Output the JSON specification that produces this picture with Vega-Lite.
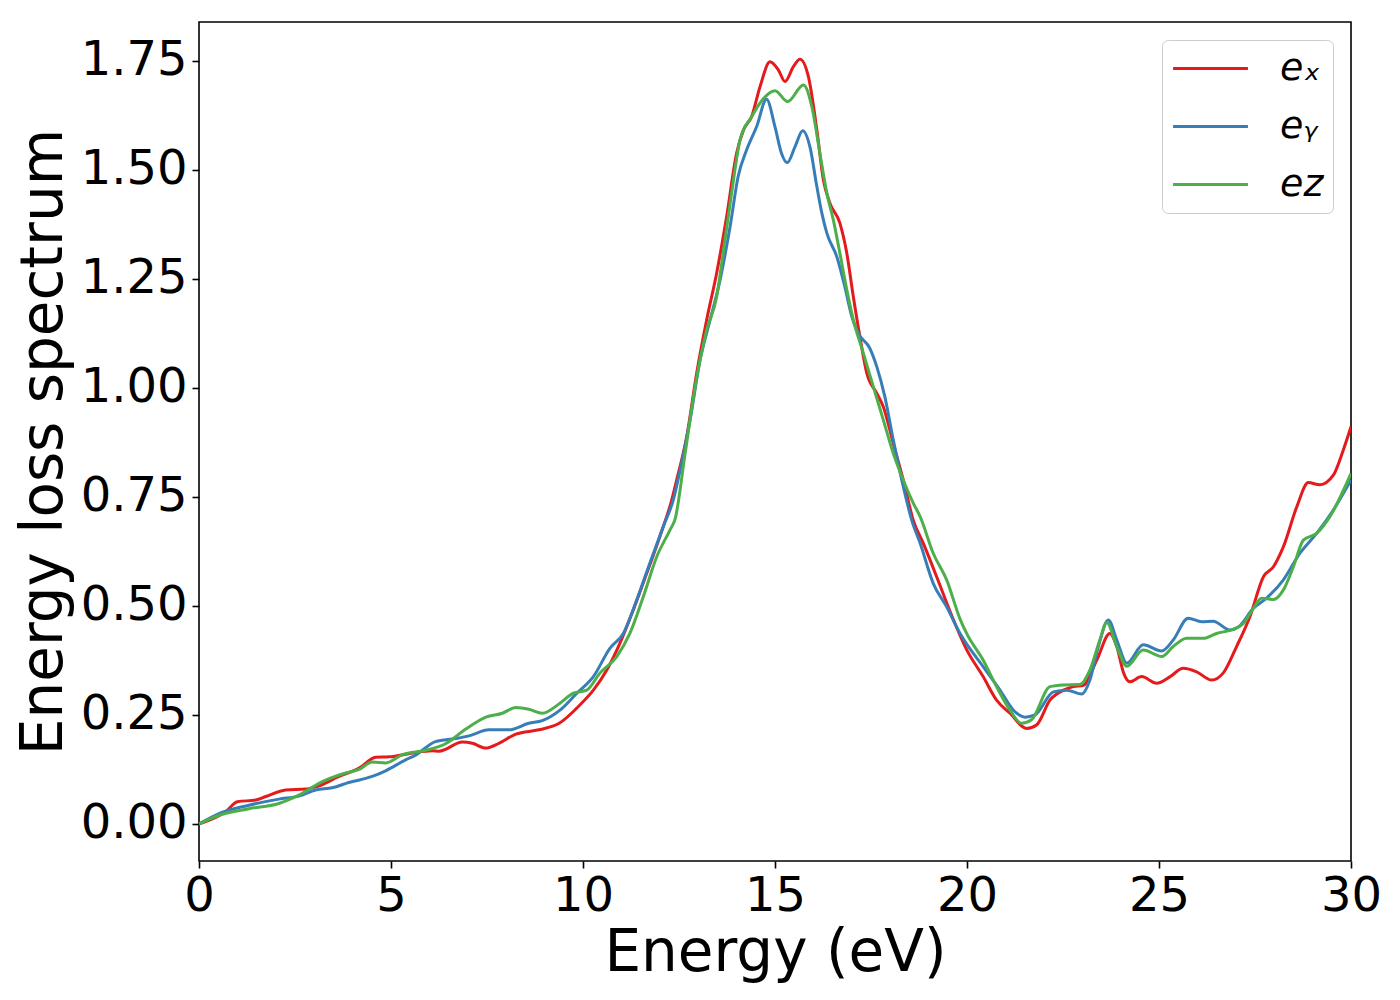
{
  "$schema": "https://vega.github.io/schema/vega-lite/v6.json",
  "width": 1152,
  "height": 839,
  "autosize": {"type": "none"},
  "padding": {"left": 199, "top": 22, "right": 49, "bottom": 139},
  "background": "white",
  "config": {
    "font": "DejaVu Sans",
    "view": {"stroke": "black", "strokeWidth": 1.6}
  },
  "datasets": {
    "eels": [
      {"energy": 0, "loss": 0, "series": "ex"},
      {"energy": 0.69, "loss": 0.028, "series": "ex"},
      {"energy": 1.0, "loss": 0.051, "series": "ex"},
      {"energy": 1.48, "loss": 0.055, "series": "ex"},
      {"energy": 1.74, "loss": 0.063, "series": "ex"},
      {"energy": 2.26, "loss": 0.078, "series": "ex"},
      {"energy": 2.78, "loss": 0.08, "series": "ex"},
      {"energy": 3.04, "loss": 0.085, "series": "ex"},
      {"energy": 3.65, "loss": 0.109, "series": "ex"},
      {"energy": 4.17, "loss": 0.128, "series": "ex"},
      {"energy": 4.6, "loss": 0.153, "series": "ex"},
      {"energy": 4.95, "loss": 0.154, "series": "ex"},
      {"energy": 5.56, "loss": 0.163, "series": "ex"},
      {"energy": 6.08, "loss": 0.168, "series": "ex"},
      {"energy": 6.25, "loss": 0.167, "series": "ex"},
      {"energy": 6.86, "loss": 0.188, "series": "ex"},
      {"energy": 7.12, "loss": 0.185, "series": "ex"},
      {"energy": 7.47, "loss": 0.174, "series": "ex"},
      {"energy": 7.81, "loss": 0.185, "series": "ex"},
      {"energy": 8.25, "loss": 0.206, "series": "ex"},
      {"energy": 8.85, "loss": 0.216, "series": "ex"},
      {"energy": 9.38, "loss": 0.231, "series": "ex"},
      {"energy": 9.92, "loss": 0.273, "series": "ex"},
      {"energy": 10.27, "loss": 0.307, "series": "ex"},
      {"energy": 10.62, "loss": 0.353, "series": "ex"},
      {"energy": 10.96, "loss": 0.414, "series": "ex"},
      {"energy": 11.31, "loss": 0.491, "series": "ex"},
      {"energy": 11.66, "loss": 0.575, "series": "ex"},
      {"energy": 12.0, "loss": 0.659, "series": "ex"},
      {"energy": 12.31, "loss": 0.743, "series": "ex"},
      {"energy": 12.44, "loss": 0.789, "series": "ex"},
      {"energy": 12.7, "loss": 0.888, "series": "ex"},
      {"energy": 12.96, "loss": 1.034, "series": "ex"},
      {"energy": 13.22, "loss": 1.156, "series": "ex"},
      {"energy": 13.48, "loss": 1.263, "series": "ex"},
      {"energy": 13.74, "loss": 1.393, "series": "ex"},
      {"energy": 14.0, "loss": 1.538, "series": "ex"},
      {"energy": 14.18, "loss": 1.592, "series": "ex"},
      {"energy": 14.39, "loss": 1.622, "series": "ex"},
      {"energy": 14.61, "loss": 1.691, "series": "ex"},
      {"energy": 14.87, "loss": 1.748, "series": "ex"},
      {"energy": 15.09, "loss": 1.729, "series": "ex"},
      {"energy": 15.26, "loss": 1.703, "series": "ex"},
      {"energy": 15.48, "loss": 1.737, "series": "ex"},
      {"energy": 15.65, "loss": 1.754, "series": "ex"},
      {"energy": 15.87, "loss": 1.714, "series": "ex"},
      {"energy": 16.09, "loss": 1.592, "series": "ex"},
      {"energy": 16.26, "loss": 1.477, "series": "ex"},
      {"energy": 16.43, "loss": 1.424, "series": "ex"},
      {"energy": 16.69, "loss": 1.378, "series": "ex"},
      {"energy": 16.87, "loss": 1.309, "series": "ex"},
      {"energy": 17.04, "loss": 1.209, "series": "ex"},
      {"energy": 17.21, "loss": 1.118, "series": "ex"},
      {"energy": 17.39, "loss": 1.034, "series": "ex"},
      {"energy": 17.65, "loss": 0.988, "series": "ex"},
      {"energy": 17.82, "loss": 0.957, "series": "ex"},
      {"energy": 18.08, "loss": 0.873, "series": "ex"},
      {"energy": 18.34, "loss": 0.789, "series": "ex"},
      {"energy": 18.6, "loss": 0.697, "series": "ex"},
      {"energy": 18.86, "loss": 0.644, "series": "ex"},
      {"energy": 19.21, "loss": 0.567, "series": "ex"},
      {"energy": 19.56, "loss": 0.487, "series": "ex"},
      {"energy": 19.99, "loss": 0.4, "series": "ex"},
      {"energy": 20.42, "loss": 0.338, "series": "ex"},
      {"energy": 20.77, "loss": 0.284, "series": "ex"},
      {"energy": 21.12, "loss": 0.254, "series": "ex"},
      {"energy": 21.55, "loss": 0.219, "series": "ex"},
      {"energy": 21.81, "loss": 0.227, "series": "ex"},
      {"energy": 22.16, "loss": 0.284, "series": "ex"},
      {"energy": 22.51, "loss": 0.307, "series": "ex"},
      {"energy": 22.77, "loss": 0.315, "series": "ex"},
      {"energy": 23.03, "loss": 0.318, "series": "ex"},
      {"energy": 23.38, "loss": 0.376, "series": "ex"},
      {"energy": 23.72, "loss": 0.437, "series": "ex"},
      {"energy": 23.9, "loss": 0.407, "series": "ex"},
      {"energy": 24.08, "loss": 0.346, "series": "ex"},
      {"energy": 24.24, "loss": 0.326, "series": "ex"},
      {"energy": 24.55, "loss": 0.338, "series": "ex"},
      {"energy": 24.94, "loss": 0.323, "series": "ex"},
      {"energy": 25.29, "loss": 0.338, "series": "ex"},
      {"energy": 25.63, "loss": 0.357, "series": "ex"},
      {"energy": 25.98, "loss": 0.349, "series": "ex"},
      {"energy": 26.37, "loss": 0.33, "series": "ex"},
      {"energy": 26.67, "loss": 0.346, "series": "ex"},
      {"energy": 27.02, "loss": 0.407, "series": "ex"},
      {"energy": 27.37, "loss": 0.476, "series": "ex"},
      {"energy": 27.72, "loss": 0.567, "series": "ex"},
      {"energy": 27.98, "loss": 0.59, "series": "ex"},
      {"energy": 28.24, "loss": 0.636, "series": "ex"},
      {"energy": 28.59, "loss": 0.728, "series": "ex"},
      {"energy": 28.89, "loss": 0.783, "series": "ex"},
      {"energy": 29.19, "loss": 0.778, "series": "ex"},
      {"energy": 29.54, "loss": 0.8, "series": "ex"},
      {"energy": 29.8, "loss": 0.858, "series": "ex"},
      {"energy": 30.0, "loss": 0.911, "series": "ex"},

      {"energy": 0, "loss": 0, "series": "ey"},
      {"energy": 0.52, "loss": 0.024, "series": "ey"},
      {"energy": 1.3, "loss": 0.043, "series": "ey"},
      {"energy": 2.08, "loss": 0.057, "series": "ey"},
      {"energy": 2.6, "loss": 0.064, "series": "ey"},
      {"energy": 3.04, "loss": 0.078, "series": "ey"},
      {"energy": 3.47, "loss": 0.083, "series": "ey"},
      {"energy": 3.9, "loss": 0.095, "series": "ey"},
      {"energy": 4.51, "loss": 0.109, "series": "ey"},
      {"energy": 4.86, "loss": 0.122, "series": "ey"},
      {"energy": 5.38, "loss": 0.147, "series": "ey"},
      {"energy": 5.64, "loss": 0.158, "series": "ey"},
      {"energy": 6.16, "loss": 0.189, "series": "ey"},
      {"energy": 6.68, "loss": 0.196, "series": "ey"},
      {"energy": 7.03, "loss": 0.202, "series": "ey"},
      {"energy": 7.55, "loss": 0.216, "series": "ey"},
      {"energy": 8.07, "loss": 0.216, "series": "ey"},
      {"energy": 8.59, "loss": 0.231, "series": "ey"},
      {"energy": 8.94, "loss": 0.237, "series": "ey"},
      {"energy": 9.4, "loss": 0.261, "series": "ey"},
      {"energy": 9.84, "loss": 0.3, "series": "ey"},
      {"energy": 10.27, "loss": 0.338, "series": "ey"},
      {"energy": 10.7, "loss": 0.403, "series": "ey"},
      {"energy": 11.05, "loss": 0.437, "series": "ey"},
      {"energy": 11.4, "loss": 0.514, "series": "ey"},
      {"energy": 11.74, "loss": 0.598, "series": "ey"},
      {"energy": 12.09, "loss": 0.682, "series": "ey"},
      {"energy": 12.35, "loss": 0.743, "series": "ey"},
      {"energy": 12.53, "loss": 0.812, "series": "ey"},
      {"energy": 12.79, "loss": 0.927, "series": "ey"},
      {"energy": 13.05, "loss": 1.064, "series": "ey"},
      {"energy": 13.31, "loss": 1.156, "series": "ey"},
      {"energy": 13.57, "loss": 1.248, "series": "ey"},
      {"energy": 13.83, "loss": 1.37, "series": "ey"},
      {"energy": 14.04, "loss": 1.485, "series": "ey"},
      {"energy": 14.26, "loss": 1.546, "series": "ey"},
      {"energy": 14.52, "loss": 1.599, "series": "ey"},
      {"energy": 14.78, "loss": 1.662, "series": "ey"},
      {"energy": 15.0, "loss": 1.599, "series": "ey"},
      {"energy": 15.17, "loss": 1.538, "series": "ey"},
      {"energy": 15.32, "loss": 1.517, "series": "ey"},
      {"energy": 15.52, "loss": 1.553, "series": "ey"},
      {"energy": 15.72, "loss": 1.59, "series": "ey"},
      {"energy": 15.91, "loss": 1.553, "series": "ey"},
      {"energy": 16.09, "loss": 1.462, "series": "ey"},
      {"energy": 16.22, "loss": 1.401, "series": "ey"},
      {"energy": 16.35, "loss": 1.355, "series": "ey"},
      {"energy": 16.61, "loss": 1.301, "series": "ey"},
      {"energy": 16.82, "loss": 1.232, "series": "ey"},
      {"energy": 17.0, "loss": 1.164, "series": "ey"},
      {"energy": 17.17, "loss": 1.125, "series": "ey"},
      {"energy": 17.47, "loss": 1.091, "series": "ey"},
      {"energy": 17.65, "loss": 1.049, "series": "ey"},
      {"energy": 17.86, "loss": 0.98, "series": "ey"},
      {"energy": 18.08, "loss": 0.881, "series": "ey"},
      {"energy": 18.34, "loss": 0.774, "series": "ey"},
      {"energy": 18.56, "loss": 0.697, "series": "ey"},
      {"energy": 18.78, "loss": 0.644, "series": "ey"},
      {"energy": 19.12, "loss": 0.552, "series": "ey"},
      {"energy": 19.47, "loss": 0.498, "series": "ey"},
      {"energy": 19.82, "loss": 0.437, "series": "ey"},
      {"energy": 20.42, "loss": 0.361, "series": "ey"},
      {"energy": 20.86, "loss": 0.307, "series": "ey"},
      {"energy": 21.21, "loss": 0.261, "series": "ey"},
      {"energy": 21.51, "loss": 0.245, "series": "ey"},
      {"energy": 21.77, "loss": 0.25, "series": "ey"},
      {"energy": 22.25, "loss": 0.303, "series": "ey"},
      {"energy": 22.6, "loss": 0.307, "series": "ey"},
      {"energy": 22.99, "loss": 0.298, "series": "ey"},
      {"energy": 23.2, "loss": 0.33, "series": "ey"},
      {"energy": 23.42, "loss": 0.407, "series": "ey"},
      {"energy": 23.68, "loss": 0.468, "series": "ey"},
      {"energy": 23.9, "loss": 0.422, "series": "ey"},
      {"energy": 24.16, "loss": 0.369, "series": "ey"},
      {"energy": 24.59, "loss": 0.411, "series": "ey"},
      {"energy": 25.07, "loss": 0.397, "series": "ey"},
      {"energy": 25.37, "loss": 0.422, "series": "ey"},
      {"energy": 25.76, "loss": 0.472, "series": "ey"},
      {"energy": 26.11, "loss": 0.464, "series": "ey"},
      {"energy": 26.41, "loss": 0.465, "series": "ey"},
      {"energy": 26.85, "loss": 0.445, "series": "ey"},
      {"energy": 27.07, "loss": 0.452, "series": "ey"},
      {"energy": 27.46, "loss": 0.495, "series": "ey"},
      {"energy": 27.8, "loss": 0.518, "series": "ey"},
      {"energy": 28.24, "loss": 0.56, "series": "ey"},
      {"energy": 28.67, "loss": 0.621, "series": "ey"},
      {"energy": 29.11, "loss": 0.667, "series": "ey"},
      {"energy": 29.54, "loss": 0.72, "series": "ey"},
      {"energy": 30.0, "loss": 0.789, "series": "ey"},

      {"energy": 0, "loss": 0, "series": "ez"},
      {"energy": 0.52, "loss": 0.02, "series": "ez"},
      {"energy": 1.3, "loss": 0.035, "series": "ez"},
      {"energy": 2.08, "loss": 0.047, "series": "ez"},
      {"energy": 2.6, "loss": 0.066, "series": "ez"},
      {"energy": 3.21, "loss": 0.097, "series": "ez"},
      {"energy": 3.82, "loss": 0.117, "series": "ez"},
      {"energy": 4.17, "loss": 0.125, "series": "ez"},
      {"energy": 4.51, "loss": 0.142, "series": "ez"},
      {"energy": 4.86, "loss": 0.14, "series": "ez"},
      {"energy": 5.3, "loss": 0.159, "series": "ez"},
      {"energy": 5.9, "loss": 0.169, "series": "ez"},
      {"energy": 6.42, "loss": 0.184, "series": "ez"},
      {"energy": 6.94, "loss": 0.217, "series": "ez"},
      {"energy": 7.47, "loss": 0.245, "series": "ez"},
      {"energy": 7.9, "loss": 0.254, "series": "ez"},
      {"energy": 8.25, "loss": 0.267, "series": "ez"},
      {"energy": 8.59, "loss": 0.263, "series": "ez"},
      {"energy": 8.94, "loss": 0.254, "series": "ez"},
      {"energy": 9.4, "loss": 0.277, "series": "ez"},
      {"energy": 9.75, "loss": 0.3, "series": "ez"},
      {"energy": 10.1, "loss": 0.307, "series": "ez"},
      {"energy": 10.44, "loss": 0.346, "series": "ez"},
      {"energy": 10.88, "loss": 0.384, "series": "ez"},
      {"energy": 11.22, "loss": 0.437, "series": "ez"},
      {"energy": 11.57, "loss": 0.521, "series": "ez"},
      {"energy": 11.92, "loss": 0.613, "series": "ez"},
      {"energy": 12.27, "loss": 0.675, "series": "ez"},
      {"energy": 12.4, "loss": 0.7, "series": "ez"},
      {"energy": 12.66, "loss": 0.85, "series": "ez"},
      {"energy": 12.92, "loss": 1.003, "series": "ez"},
      {"energy": 13.22, "loss": 1.133, "series": "ez"},
      {"energy": 13.48, "loss": 1.209, "series": "ez"},
      {"energy": 13.65, "loss": 1.309, "series": "ez"},
      {"energy": 13.87, "loss": 1.447, "series": "ez"},
      {"energy": 14.09, "loss": 1.569, "series": "ez"},
      {"energy": 14.39, "loss": 1.622, "series": "ez"},
      {"energy": 14.7, "loss": 1.664, "series": "ez"},
      {"energy": 15.0, "loss": 1.682, "series": "ez"},
      {"energy": 15.33, "loss": 1.657, "series": "ez"},
      {"energy": 15.74, "loss": 1.695, "series": "ez"},
      {"energy": 15.96, "loss": 1.645, "series": "ez"},
      {"energy": 16.17, "loss": 1.538, "series": "ez"},
      {"energy": 16.35, "loss": 1.447, "series": "ez"},
      {"energy": 16.52, "loss": 1.385, "series": "ez"},
      {"energy": 16.69, "loss": 1.309, "series": "ez"},
      {"energy": 16.87, "loss": 1.225, "series": "ez"},
      {"energy": 17.04, "loss": 1.156, "series": "ez"},
      {"energy": 17.3, "loss": 1.08, "series": "ez"},
      {"energy": 17.56, "loss": 1.003, "series": "ez"},
      {"energy": 17.82, "loss": 0.927, "series": "ez"},
      {"energy": 18.08, "loss": 0.85, "series": "ez"},
      {"energy": 18.34, "loss": 0.789, "series": "ez"},
      {"energy": 18.6, "loss": 0.736, "series": "ez"},
      {"energy": 18.78, "loss": 0.705, "series": "ez"},
      {"energy": 19.12, "loss": 0.621, "series": "ez"},
      {"energy": 19.47, "loss": 0.56, "series": "ez"},
      {"energy": 19.82, "loss": 0.47, "series": "ez"},
      {"energy": 19.99, "loss": 0.437, "series": "ez"},
      {"energy": 20.42, "loss": 0.376, "series": "ez"},
      {"energy": 20.77, "loss": 0.315, "series": "ez"},
      {"energy": 21.12, "loss": 0.261, "series": "ez"},
      {"energy": 21.42, "loss": 0.231, "series": "ez"},
      {"energy": 21.68, "loss": 0.239, "series": "ez"},
      {"energy": 22.16, "loss": 0.315, "series": "ez"},
      {"energy": 22.51, "loss": 0.319, "series": "ez"},
      {"energy": 22.94, "loss": 0.32, "series": "ez"},
      {"energy": 23.2, "loss": 0.353, "series": "ez"},
      {"energy": 23.46, "loss": 0.422, "series": "ez"},
      {"energy": 23.64, "loss": 0.462, "series": "ez"},
      {"energy": 23.9, "loss": 0.407, "series": "ez"},
      {"energy": 24.16, "loss": 0.362, "series": "ez"},
      {"energy": 24.59, "loss": 0.399, "series": "ez"},
      {"energy": 25.07, "loss": 0.384, "series": "ez"},
      {"energy": 25.37, "loss": 0.407, "series": "ez"},
      {"energy": 25.72, "loss": 0.426, "series": "ez"},
      {"energy": 26.15, "loss": 0.426, "series": "ez"},
      {"energy": 26.5, "loss": 0.437, "series": "ez"},
      {"energy": 26.94, "loss": 0.447, "series": "ez"},
      {"energy": 27.2, "loss": 0.46, "series": "ez"},
      {"energy": 27.46, "loss": 0.495, "series": "ez"},
      {"energy": 27.67, "loss": 0.518, "series": "ez"},
      {"energy": 27.98, "loss": 0.515, "series": "ez"},
      {"energy": 28.24, "loss": 0.537, "series": "ez"},
      {"energy": 28.5, "loss": 0.59, "series": "ez"},
      {"energy": 28.76, "loss": 0.651, "series": "ez"},
      {"energy": 29.11, "loss": 0.667, "series": "ez"},
      {"energy": 29.45, "loss": 0.705, "series": "ez"},
      {"energy": 30.0, "loss": 0.804, "series": "ez"}
    ]
  },
  "data": {"name": "eels"},
  "mark": {"type": "line", "strokeWidth": 3, "interpolate": "monotone", "clip": true},
  "encoding": {
    "x": {
      "field": "energy",
      "type": "quantitative",
      "scale": {"domain": [0, 30], "nice": false, "zero": false},
      "axis": {
        "title": "Energy (eV)",
        "values": [0, 5, 10, 15, 20, 25, 30],
        "format": "d",
        "grid": false,
        "domain": false,
        "tickColor": "black",
        "tickSize": 7,
        "tickWidth": 1.6,
        "labelFontSize": 48,
        "labelColor": "black",
        "labelPadding": 4,
        "labelFlush": false,
        "labelOverlap": false,
        "titleFontSize": 58,
        "titleFontWeight": "normal",
        "titleColor": "black",
        "titleBaseline": "alphabetic",
        "titleAlign": "center",
        "titleX": 576,
        "titleY": 109
      }
    },
    "y": {
      "field": "loss",
      "type": "quantitative",
      "scale": {"domain": [-0.0849, 1.8394], "nice": false, "zero": false},
      "axis": {
        "title": "Energy loss spectrum",
        "values": [0, 0.25, 0.5, 0.75, 1, 1.25, 1.5, 1.75],
        "format": ".2f",
        "grid": false,
        "domain": false,
        "tickColor": "black",
        "tickSize": 7,
        "tickWidth": 1.6,
        "labelFontSize": 48,
        "labelColor": "black",
        "labelPadding": 5,
        "labelBaseline": "middle",
        "labelOverlap": false,
        "titleFontSize": 58,
        "titleFontWeight": "normal",
        "titleColor": "black",
        "titleAngle": 270,
        "titleBaseline": "alphabetic",
        "titleAlign": "center",
        "titleX": -138,
        "titleY": 419.5
      }
    },
    "color": {
      "field": "series",
      "type": "nominal",
      "scale": {
        "domain": ["ex", "ey", "ez"],
        "range": ["#e41a1c", "#377eb8", "#4daf4a"]
      },
      "legend": {
        "title": null,
        "orient": "top-right",
        "offset": 18,
        "fillColor": "white",
        "strokeColor": "#cccccc",
        "cornerRadius": 6,
        "padding": 9,
        "symbolType": "M-2.08,0H2.08",
        "symbolSize": 1296,
        "symbolStrokeWidth": 3,
        "symbolOffset": 20,
        "rowPadding": 19,
        "labelOffset": 50,
        "labelFontSize": 38,
        "labelFontStyle": "italic",
        "labelColor": "black",
        "labelExpr": "datum.label == 'ex' ? 'eₓ' : datum.label == 'ey' ? 'eᵧ' : 'ez'"
      }
    }
  }
}
